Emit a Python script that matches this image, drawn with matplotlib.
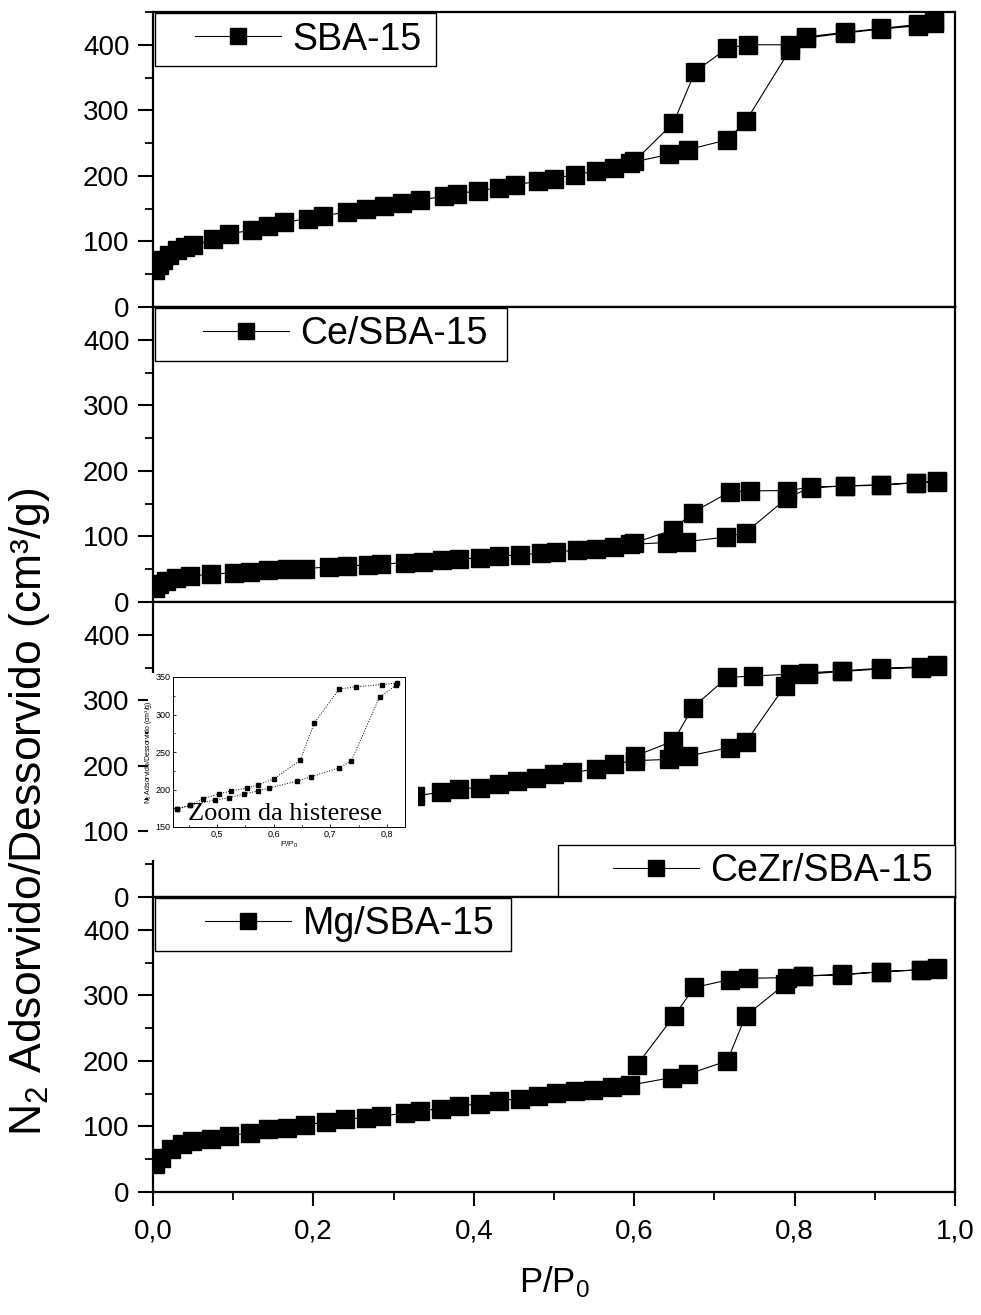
import matplotlib
matplotlib.use("Agg")
import matplotlib.pyplot as plt
from matplotlib.patches import Rectangle
from matplotlib.ticker import MultipleLocator, FuncFormatter

plt.rcParams['font.family'] = ['Liberation Sans', 'DejaVu Sans']
plt.rcParams['mathtext.default'] = 'regular'

# ---- data (P/P0, cm3/g) ----
# SBA-15
p_ads_sba = [0.003, 0.007, 0.012, 0.020, 0.030, 0.040, 0.050, 0.075, 0.095, 0.124, 0.144,
             0.163, 0.193, 0.212, 0.242, 0.265, 0.288, 0.310, 0.333, 0.363, 0.379, 0.405,
             0.431, 0.451, 0.480, 0.500, 0.526, 0.552, 0.575, 0.595, 0.644, 0.667, 0.716,
             0.739, 0.794, 0.814, 0.863, 0.908, 0.954, 0.974]
v_ads_sba = [57, 64, 72, 80, 87, 91, 94, 103, 111, 118, 124, 129, 135, 139, 145, 149, 154,
             158, 163, 169, 173, 177, 182, 186, 192, 196, 202, 207, 212, 220, 233, 240, 255,
             283, 392, 410, 418, 424, 429, 433]
p_des_sba = [0.974, 0.954, 0.908, 0.863, 0.814, 0.794, 0.742, 0.716, 0.676, 0.649, 0.600]
v_des_sba = [437, 431, 425, 419, 412, 400, 400, 395, 359, 281, 222]

# Ce/SBA-15
p_ads_ce = [0.003, 0.008, 0.016, 0.029, 0.046, 0.072, 0.101, 0.121, 0.144, 0.167, 0.190,
            0.219, 0.242, 0.268, 0.284, 0.314, 0.337, 0.360, 0.382, 0.408, 0.431, 0.458,
            0.484, 0.503, 0.529, 0.552, 0.575, 0.595, 0.641, 0.665, 0.714, 0.739, 0.791,
            0.820, 0.863, 0.908, 0.951, 0.977]
v_ads_ce = [22, 27, 32, 37, 40, 42, 45, 46, 48.5, 50, 51, 53.5, 55, 56.6, 57.6, 60, 61.7,
            63.7, 65, 67.8, 70, 72, 74.4, 76.4, 79, 81.5, 84.6, 88, 90.7, 92, 99, 106, 159,
            174.6, 177, 178, 182, 183]
p_des_ce = [0.977, 0.951, 0.908, 0.863, 0.820, 0.791, 0.745, 0.719, 0.673, 0.648, 0.600]
v_des_ce = [184, 182, 179, 177, 175, 170, 169.5, 168, 136.5, 110, 90]

# CeZr/SBA-15 (low pressure part hidden by the inset)
p_ads_cezr = [0.327, 0.359, 0.382, 0.408, 0.431, 0.454, 0.477, 0.500, 0.523, 0.552, 0.575,
              0.601, 0.644, 0.667, 0.719, 0.739, 0.788, 0.817, 0.859, 0.908, 0.958, 0.977]
v_ads_cezr = [154, 160, 165, 167, 172, 177, 182, 187, 190, 195, 203, 208, 210, 215, 228,
              236, 322, 340, 344, 348, 350, 353]
p_des_cezr = [0.977, 0.958, 0.908, 0.859, 0.817, 0.794, 0.748, 0.716, 0.673, 0.649, 0.601]
v_des_cezr = [354, 351, 349, 345, 342, 340, 337, 335, 289, 238, 215]

# Mg/SBA-15
p_ads_mg = [0.003, 0.010, 0.023, 0.036, 0.049, 0.072, 0.095, 0.121, 0.144, 0.167, 0.190,
            0.216, 0.239, 0.265, 0.284, 0.314, 0.333, 0.359, 0.382, 0.408, 0.431, 0.458,
            0.480, 0.503, 0.526, 0.549, 0.572, 0.595, 0.647, 0.667, 0.716, 0.739, 0.788,
            0.810, 0.859, 0.908, 0.958, 0.977]
v_ads_mg = [42, 52, 65, 73, 78, 81.5, 85.6, 90.7, 95.8, 98, 102, 107, 111, 113.6, 116, 120,
            123.8, 127, 131, 135, 139, 142.6, 146.6, 150.7, 154, 156, 160, 163, 174.6, 179.7,
            200, 268.7, 317, 330, 331, 336, 339, 340]
p_des_mg = [0.977, 0.958, 0.908, 0.859, 0.810, 0.791, 0.742, 0.719, 0.675, 0.650, 0.603]
v_des_mg = [341, 339, 336, 332, 329, 327, 326, 324, 312, 269, 193]

# inset: CeZr/SBA-15 hysteresis zoom
ins_p_ads = [0.429, 0.453, 0.497, 0.522, 0.547, 0.572, 0.592, 0.641, 0.666, 0.716, 0.737,
             0.787, 0.816]
ins_v_ads = [174, 179, 186, 189, 194, 198, 202, 211, 217, 229, 238, 323, 339]
ins_p_des = [0.818, 0.792, 0.745, 0.716, 0.672, 0.647, 0.600, 0.572, 0.553, 0.524, 0.503,
             0.476, 0.453, 0.429]
ins_v_des = [342, 340, 337, 334, 289, 239, 214, 206, 202, 198, 194, 188, 179, 174]

labels = ["SBA-15", "Ce/SBA-15", "CeZr/SBA-15", "Mg/SBA-15"]
series = [(p_ads_sba, v_ads_sba, p_des_sba, v_des_sba),
          (p_ads_ce, v_ads_ce, p_des_ce, v_des_ce),
          (p_ads_cezr, v_ads_cezr, p_des_cezr, v_des_cezr),
          (p_ads_mg, v_ads_mg, p_des_mg, v_des_mg)]


def comma(v, pos):
    return f"{v:.1f}".replace('.', ',')


W, H = 981, 1315
L, R = 153, 955
tops = [12, 306, 601, 896]
bots = [306, 601, 896, 1192]

fig = plt.figure(figsize=(W / 100, H / 100), dpi=100)
gs = fig.add_gridspec(4, 1, left=L / W, right=R / W, top=1 - 12 / H,
                      bottom=1 - 1192 / H, hspace=0)

# legend boxes in pixels: (x0, x1, y0, y1, handle start)
boxes = [(155, 436, 13, 66, 195),
         (155, 507, 307, 360, 203),
         (558, 955, 844, 897, 613),
         (155, 511, 897, 950, 205)]

axes = []
for i, (lab, (pa, va, pd, vd)) in enumerate(zip(labels, series)):
    ax = fig.add_subplot(gs[i])
    axes.append(ax)
    line, = ax.plot(pa + pd, va + vd, color='black', lw=0.8, marker='s', ms=13,
                    mec='black', mfc='black')
    ax.set_xlim(0, 1.0)
    ax.set_ylim(0, 450)
    ax.yaxis.set_major_locator(MultipleLocator(100))
    ax.yaxis.set_minor_locator(MultipleLocator(50))
    ax.xaxis.set_major_locator(MultipleLocator(0.2))
    ax.xaxis.set_minor_locator(MultipleLocator(0.1))
    ax.xaxis.set_major_formatter(FuncFormatter(comma))
    for s in ax.spines.values():
        s.set_linewidth(1.6)
    ax.tick_params(axis='y', which='major', direction='out', length=11, width=1.5,
                   labelsize=20, pad=6)
    ax.tick_params(axis='y', which='minor', direction='out', length=6, width=1.3)
    if i < 3:
        ax.tick_params(axis='x', which='both', bottom=False, labelbottom=False)
    else:
        ax.tick_params(axis='x', which='major', direction='out', length=10, width=1.5,
                       labelsize=20, pad=9)
        ax.tick_params(axis='x', which='minor', direction='out', length=6, width=1.3)
        ax.set_xlabel("P/P$_0$", fontsize=25, labelpad=14)

    t, b = tops[i], bots[i]
    x0, x1, y0, y1, hx = boxes[i]
    fx = lambda px: (px - L) / (R - L)
    fy = lambda py: (b - py) / (b - t)
    ax.add_patch(Rectangle((fx(x0), fy(y1)), fx(x1) - fx(x0), fy(y0) - fy(y1),
                           transform=ax.transAxes, fc='white', ec='black', lw=1.0,
                           zorder=5, clip_on=False))
    leg = ax.legend([line], [lab], loc='center left',
                    bbox_to_anchor=(fx(hx), fy((y0 + y1) / 2)), frameon=False,
                    borderpad=0, borderaxespad=0, handlelength=2.3, handletextpad=0.3,
                    fontsize=27, markerscale=0.85)
    leg.set_zorder(6)

fig.text(0.03, 1 - 812 / H, "N$_2$ Adsorvido/Dessorvido (cm³/g)", rotation=90,
         ha='center', va='center', fontsize=32)

# white background of the pasted inset
fig.add_artist(Rectangle((148 / W, 1 - 860 / H), 270 / W, 187 / H,
                         transform=fig.transFigure, fc='white', ec='none', zorder=2))

axins = fig.add_axes([173 / W, 1 - 827 / H, 232 / W, 150 / H])
axins.set_zorder(3)
axins.plot(ins_p_ads, ins_v_ads, color='black', lw=0.7, ls=':', marker='s', ms=3)
axins.plot(ins_p_des, ins_v_des, color='black', lw=0.7, ls=':', marker='s', ms=3)
axins.set_xlim(0.4224, 0.832)
axins.set_ylim(150, 350)
axins.xaxis.set_major_locator(MultipleLocator(0.1))
axins.xaxis.set_minor_locator(MultipleLocator(0.05))
axins.yaxis.set_major_locator(MultipleLocator(50))
axins.yaxis.set_minor_locator(MultipleLocator(25))
axins.xaxis.set_major_formatter(FuncFormatter(comma))
axins.tick_params(which='both', direction='in', labelsize=6.5, pad=2, width=0.6)
axins.tick_params(which='major', length=2.5)
axins.tick_params(which='minor', length=1.5)
for s in axins.spines.values():
    s.set_linewidth(0.7)
axins.set_xlabel("P/P$_0$", fontsize=6, labelpad=1)
axins.set_ylabel("N$_2$ Adsorvido/Dessorvido (cm³/g)", fontsize=5, labelpad=1)
axins.text(0.449, 159, "Zoom da histerese", fontfamily='Liberation Serif', fontsize=19,
           va='baseline', ha='left')

fig.savefig("out.png", dpi=100)
